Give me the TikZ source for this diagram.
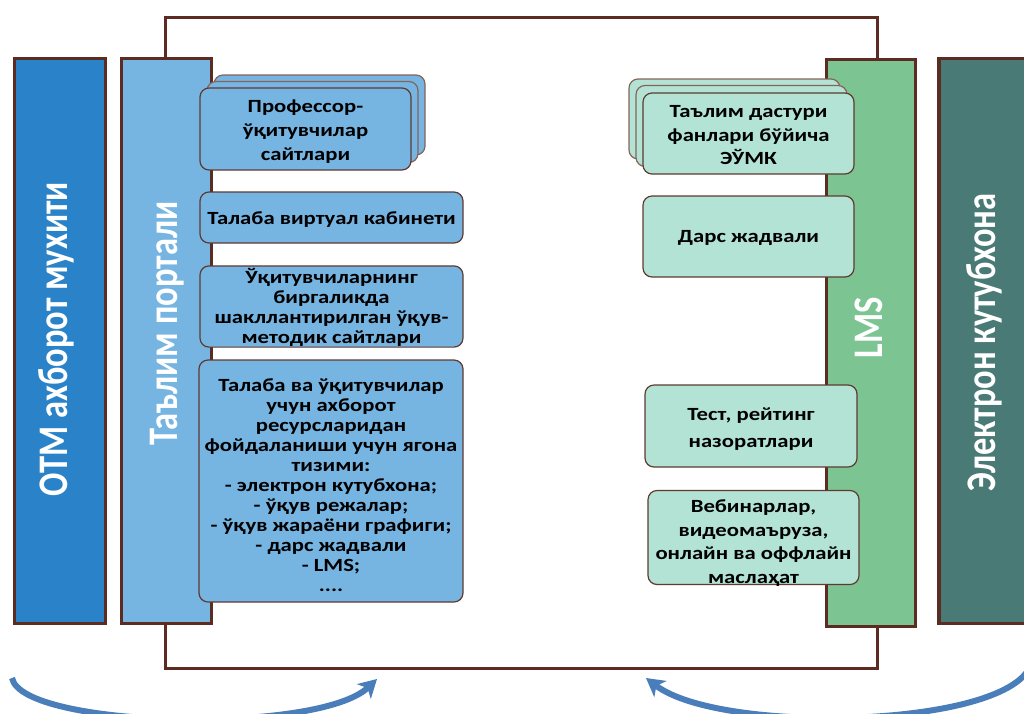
\documentclass[tikz,border=0pt]{standalone}
\usepackage{fontspec}
\setmainfont{Carlito}
\usepackage{graphicx}
\usetikzlibrary{arrows.meta}

\definecolor{brn}{HTML}{5C2B21}
\definecolor{boxbrn}{HTML}{5E3A30}
\definecolor{backbrn}{HTML}{86645A}
\definecolor{otmblue}{HTML}{2A83C8}
\definecolor{portblue}{HTML}{76B4E2}
\definecolor{lmsgreen}{HTML}{7DC493}
\definecolor{libteal}{HTML}{4A7A75}
\definecolor{mint}{HTML}{B3E3D5}
\definecolor{arrowblue}{HTML}{4A7EBB}

% bold box text, widened horizontally and lowered a little inside its card
\newcommand\boxtxt[3][3pt]{\raisebox{-#1}[\height][\depth]{\scalebox{1.22}[1]{%
  \fontsize{18.6}{#2}\selectfont\bfseries\begin{tabular}{@{}c@{}}#3\end{tabular}}}}
% large white caption of a column bar
\newcommand\bartxt[1]{\scalebox{1}[1.22]{\fontsize{34.5}{40}\selectfont\bfseries #1}}

\tikzset{
  frameline/.style={draw=brn, line width=3pt},
  colbar/.style={draw=brn, line width=3.5pt, inner sep=0pt, minimum height=565pt},
  bartext/.style={text=white, rotate=90, anchor=base, inner sep=0pt},
  bluebox/.style={draw=boxbrn, line width=1.2pt, fill=portblue, rounded corners=9pt,
    inner sep=0pt, minimum width=#1},
  bluebox/.default=263pt,
  mintbox/.style={draw=boxbrn, line width=1.2pt, fill=mint, rounded corners=9pt,
    inner sep=0pt, minimum width=211pt, minimum height=81pt},
  backcard/.style={draw=backbrn},
  bigarrow/.style={draw=arrowblue, line width=6pt,
    -{Stealth[length=18pt, width=20pt, inset=5pt]}},
}

\begin{document}
\begin{tikzpicture}[x=1pt, y=-1pt]
\useasboundingbox (0,0) rectangle (1024,713);

% frame joining the portal and the LMS columns
\coordinate (ftl) at (165,17);
\coordinate (fbr) at (877,668);
\draw[frameline] (ftl) rectangle (fbr);

% circulation arrows
\coordinate (la0) at (12,678);
\coordinate (la1) at (377,679);
\coordinate (ra0) at (1032,660);
\coordinate (ra1) at (646,678);
\draw[bigarrow] (la0) .. controls (22,728) and (318,735) .. (la1);
\draw[bigarrow] (ra0) .. controls (1022,728) and (722,736) .. (ra1);

% column bars
\node[colbar, fill=otmblue, minimum width=91pt] (otm) at (60,341) {};
\node[colbar, fill=portblue, minimum width=90pt] (portal) at (166.5,341) {};
\node[colbar, fill=lmsgreen, minimum width=89pt, minimum height=567pt] (lms) at (871,343) {};
\node[colbar, fill=libteal, minimum width=100pt] (lib) at (989,341) {};

\node[bartext] (otmt) at (67,339) {\bartxt{ОТМ ахборот мухити}};
\node[bartext] (portalt) at (177,323.5) {\bartxt{Таълим портали}};
\node[bartext] (lmst) at (882,328) {\bartxt{LMS}};
\node[bartext] (libt) at (995,342.5) {\bartxt{Электрон кутубхона}};

% portal cards
\node[bluebox=211pt, backcard, minimum height=80pt] (p1a) at (319.5,115) {};
\node[bluebox=211pt, backcard, minimum height=81pt] (p1b) at (312.5,122) {};
\node[bluebox=211pt, minimum height=82pt] (p1) at (305.5,129)
  {\boxtxt{24}{Профессор-\\ўқитувчилар\\сайтлари}};
\node[bluebox, minimum height=51pt] (b2) at (331.5,217.5)
  {\boxtxt{20}{Талаба виртуал кабинети}};
\node[bluebox, minimum height=81pt] (b3) at (331.5,306.5)
  {\boxtxt[2pt]{20}{Ўқитувчиларнинг\\биргаликда\\шакллантирилган ўқув-\\методик сайтлари}};
\node[bluebox=264pt, minimum height=242pt] (b4) at (331,481)
  {\boxtxt[6pt]{20}{Талаба ва ўқитувчилар\\учун ахборот\\ресурсларидан\\фойдаланиши учун ягона\\тизими:\\- электрон кутубхона;\\- ўқув режалар;\\- ўқув жараёни графиги;\\- дарс жадвали\\- LMS;\\....}};

% LMS cards
\node[mintbox, backcard, minimum height=80pt] (r1a) at (734.5,119) {};
\node[mintbox, backcard] (r1b) at (741.5,126) {};
\node[mintbox] (r1) at (748.5,133.5)
  {\boxtxt{23.5}{Таълим дастури\\фанлари бўйича\\ЭЎМК}};
\node[mintbox] (r2) at (748.5,236.5) {\boxtxt[1.5pt]{20}{Дарс жадвали}};
\node[mintbox, minimum width=212pt, minimum height=82pt] (r3) at (751,426)
  {\boxtxt[2.5pt]{27}{Тест, рейтинг\\назоратлари}};
\node[mintbox] (r4) at (753.5,537.5)
  {\boxtxt[6pt]{23.5}{Вебинарлар,\\видеомаъруза,\\онлайн ва оффлайн\\маслаҳат}};
\end{tikzpicture}
\end{document}
